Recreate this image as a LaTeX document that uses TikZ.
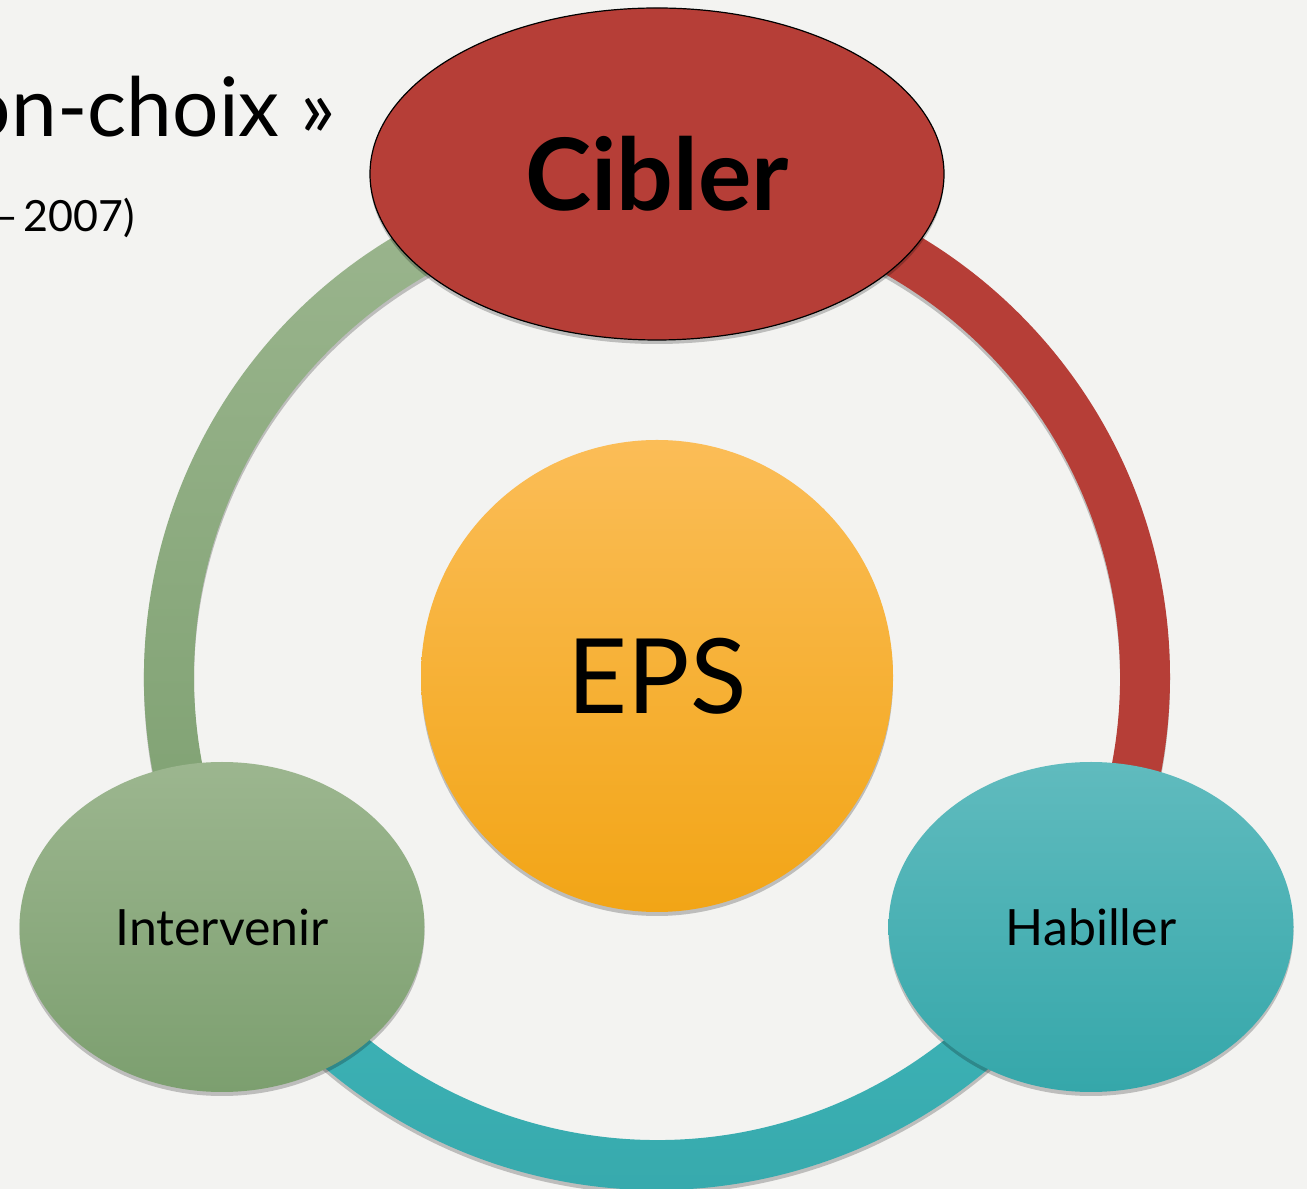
\documentclass[tikz,border=0pt]{standalone}
\usepackage{fontspec}
\setmainfont{Lato}
\usetikzlibrary{shapes.geometric,shadows,calc}

\definecolor{bg}{HTML}{F3F3F1}
\definecolor{cibred}{HTML}{B63E37}
\definecolor{grntop}{HTML}{9CB68F}
\definecolor{grnbot}{HTML}{7C9F6F}
\definecolor{teltop}{HTML}{60BBBE}
\definecolor{telmid}{HTML}{3FB5B9}
\definecolor{telbot}{HTML}{35A7AA}
\definecolor{orgtop}{HTML}{FBBD57}
\definecolor{orgmid}{HTML}{FDB823}
\definecolor{orgbot}{HTML}{F2A516}

\tikzset{
  softshadow/.style={drop shadow={shadow xshift=0pt, shadow yshift=-4pt,
      opacity=0.22, fill=black}},
  bubble/.style={ellipse, inner sep=0pt, text=black, softshadow},
  caption/.style={inner sep=0pt, text=black},
}

\begin{document}
\begin{tikzpicture}[x=1pt,y=1pt]
  \useasboundingbox[fill=bg] (0,0) rectangle (1307,1189);

  % title fragments in the upper left corner
  \node[caption, anchor=base east] (title) at (336,1052)
    {\fontsize{82}{90}\selectfont on-choix »};
  \node[caption, anchor=base east] (date) at (135,957)
    {\fontsize{43}{50}\selectfont –\hspace{0.12em}2007)};

  % ring made of three coloured segments
  \coordinate (ring) at (657,512);

  \fill[cibred, softshadow]
    ($(ring)+(90:513)$) arc[start angle=90, end angle=-30, radius=513]
    -- ($(ring)+(-30:463)$) arc[start angle=-30, end angle=90, radius=463] -- cycle;
  \shade[top color=telmid, bottom color=telbot, softshadow]
    ($(ring)+(-30:513)$) arc[start angle=-30, end angle=-150, radius=513]
    -- ($(ring)+(-150:463)$) arc[start angle=-150, end angle=-30, radius=463] -- cycle;
  \shade[top color=grntop, bottom color=grnbot, softshadow]
    ($(ring)+(210:513)$) arc[start angle=210, end angle=90, radius=513]
    -- ($(ring)+(90:463)$) arc[start angle=90, end angle=210, radius=463] -- cycle;

  % central disc
  \node[circle, inner sep=0pt, minimum size=472pt,
        top color=orgtop, middle color=orgmid, bottom color=orgbot, softshadow]
    (eps) at (657,513) {\fontsize{104}{110}\selectfont EPS};

  % outer bubbles
  \node[bubble, minimum width=405pt, minimum height=330pt,
        top color=grntop, bottom color=grnbot]
    (intervenir) at (222,262) {\fontsize{50}{56}\selectfont Intervenir};
  \node[bubble, minimum width=405pt, minimum height=330pt,
        top color=teltop, middle color=telmid, bottom color=telbot]
    (habiller) at (1091,262) {\fontsize{50}{56}\selectfont Habiller};
  \node[bubble, minimum width=574pt, minimum height=332pt,
        fill=cibred, draw=black, line width=1.2pt]
    (cibler) at (657,1015) {\fontsize{100}{106}\selectfont\bfseries Cibler};
\end{tikzpicture}
\end{document}
